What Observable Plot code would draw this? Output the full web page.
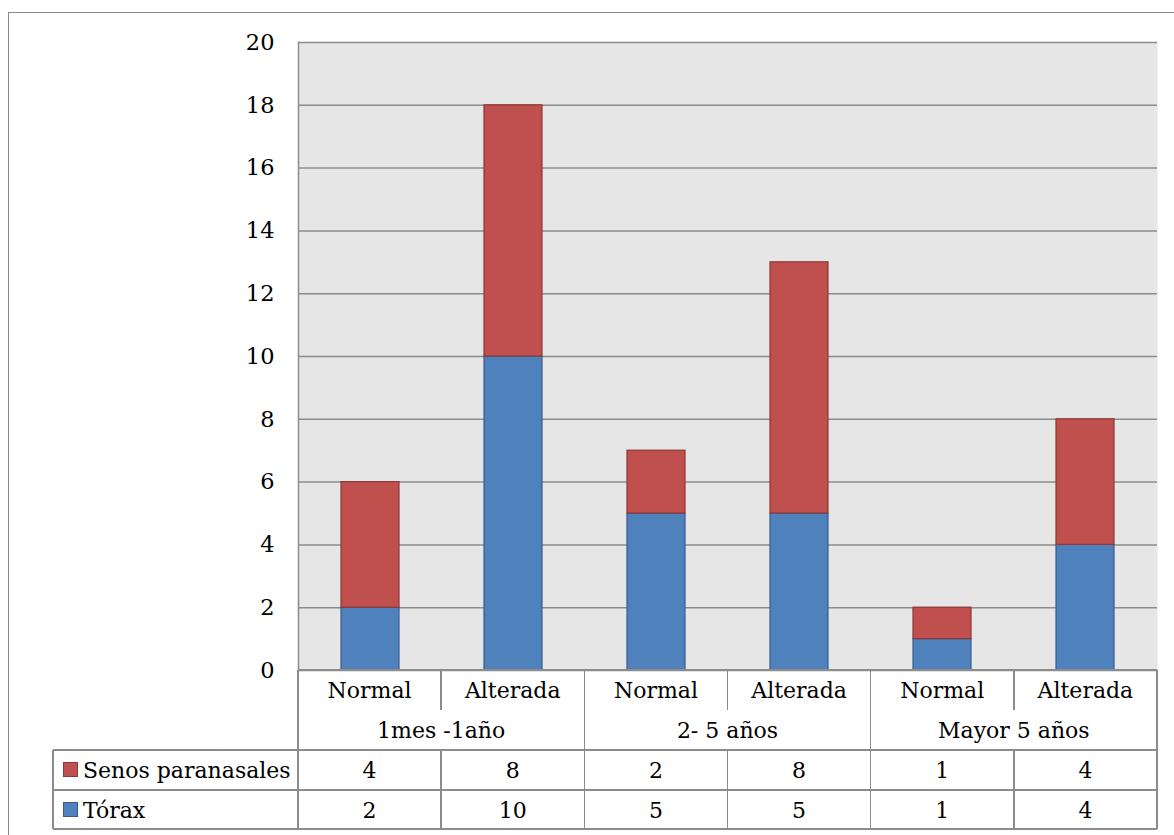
<!DOCTYPE html>
<html>
<head>
<meta charset="utf-8">
<script src="https://cdn.jsdelivr.net/npm/d3@7"></script>
<script src="https://cdn.jsdelivr.net/npm/@observablehq/plot@0.6"></script>
<style>
  html, body { margin: 0; padding: 0; background: #fff; }
  #wrap { position: relative; width: 1174px; height: 835px; overflow: hidden; font-family: "DejaVu Serif", serif; color: #000; }
  #outer { position: absolute; left: 8px; top: 12px; width: 1300px; height: 1000px; border: 1.5px solid #8c8c8c; box-sizing: border-box; }
  #chart { position: absolute; left: 0; top: 0; }
  .ln { position: absolute; background: #8c8c8c; }
  .tx { position: absolute; font-size: 22px; line-height: 40px; height: 40px; text-align: center; white-space: nowrap; }
  .sw { position: absolute; width: 13px; height: 13px; border: 1px solid; }
</style>
</head>
<body>
<div id="wrap">
  <div id="outer"></div>
  <div id="chart"></div>
</div>
<script>
// ---- data ----
const groups = ["1mes -1año", "2- 5 años", "Mayor 5 años"];
const subcats = ["Normal", "Alterada"];
const seriesNames = ["Senos paranasales", "Tórax"];
const senos = [4, 8, 2, 8, 1, 4];
const torax = [2, 10, 5, 5, 1, 4];
const yTicks = [0, 2, 4, 6, 8, 10, 12, 14, 16, 18, 20];
const colors = {"Senos paranasales": "#C0504D", "Tórax": "#4F81BD"};
const strokes = {"Senos paranasales": "#8C3836", "Tórax": "#385D8A"};

// keys for the 6 columns
const keys = [];
groups.forEach((g, gi) => subcats.forEach((s, si) => keys.push({key: gi + "|" + s, group: g, sub: s})));

const rows = [];
keys.forEach((k, i) => rows.push({key: k.key, series: "Tórax", value: torax[i]}));
keys.forEach((k, i) => rows.push({key: k.key, series: "Senos paranasales", value: senos[i]}));

// ---- layout ----
const W = 1174, mL = 298, mR = 17, mT = 42, plotBottom = 670, H = 700;
const plotW = W - mL - mR;
const step = plotW / keys.length;

const chart = Plot.plot({
  width: W,
  height: H,
  marginLeft: mL,
  marginRight: mR,
  marginTop: mT,
  marginBottom: H - plotBottom,
  style: {fontFamily: "DejaVu Serif", fontSize: "22.5px", color: "#000", background: "transparent"},
  x: {domain: keys.map(d => d.key), paddingInner: 0.595, paddingOuter: 0.2975, axis: null},
  y: {domain: [0, 20], ticks: yTicks, label: null},
  marks: [
    Plot.frame({fill: "#e6e6e6", stroke: null}),
    Plot.ruleY(yTicks, {stroke: "#8c8c8c", strokeWidth: 1.5}),
    Plot.frame({anchor: "left", stroke: "#8c8c8c", strokeWidth: 1.5}),
    Plot.barY(rows, {x: "key", y: "value", fill: d => colors[d.series], stroke: d => strokes[d.series], strokeWidth: 1.2}),
    Plot.axisY(yTicks, {tickSize: 0, tickPadding: 24, fontSize: 22.5, label: null, fill: "#000"})
  ]
});
document.getElementById("chart").appendChild(chart);

// ---- data table below the chart ----
const wrap = document.getElementById("wrap");
const legendLeft = 53;
const rowTop = [plotBottom, plotBottom + 40, plotBottom + 80, plotBottom + 120];
const tableBottom = plotBottom + 159;
const lw = 1.5;
function line(x, y, w, h) {
  const d = document.createElement("div");
  d.className = "ln";
  d.style.left = (x - (w === lw ? lw / 2 : 0)) + "px";
  d.style.top = (y - (h === lw ? lw / 2 : 0)) + "px";
  d.style.width = w + "px";
  d.style.height = h + "px";
  wrap.appendChild(d);
}
function text(str, x, y, w, align) {
  const d = document.createElement("div");
  d.className = "tx";
  d.textContent = str;
  d.style.left = x + "px";
  d.style.top = y + "px";
  d.style.width = w + "px";
  if (align) d.style.textAlign = align;
  wrap.appendChild(d);
}
const colX = i => mL + step * i;
const right = colX(keys.length);
// horizontal lines
line(mL, rowTop[0], right - mL, lw);
line(legendLeft, rowTop[2], right - legendLeft, lw);
line(legendLeft, rowTop[3], right - legendLeft, lw);
line(legendLeft, tableBottom, right - legendLeft, lw);
// vertical lines
line(legendLeft, rowTop[2], lw, tableBottom - rowTop[2]);
for (let i = 0; i <= keys.length; i++) {
  if (i % 2 === 0) line(colX(i), rowTop[0], lw, tableBottom - rowTop[0]);
  else {
    line(colX(i), rowTop[0], lw, 40);
    line(colX(i), rowTop[2], lw, tableBottom - rowTop[2]);
  }
}
// header texts
keys.forEach((k, i) => text(k.sub, colX(i), rowTop[0] + 1, step));
groups.forEach((g, gi) => text(g, colX(gi * 2), rowTop[1] + 1, step * 2));
// data rows
const seriesVals = {"Senos paranasales": senos, "Tórax": torax};
seriesNames.forEach((s, si) => {
  const top = rowTop[2 + si];
  const sw = document.createElement("div");
  sw.className = "sw";
  sw.style.left = "63px";
  sw.style.top = (top + 12) + "px";
  sw.style.background = colors[s];
  sw.style.borderColor = strokes[s];
  wrap.appendChild(sw);
  text(s, 83, top + 1, 213, "left");
  seriesVals[s].forEach((v, i) => text(String(v), colX(i), top + 1, step));
});
</script>
</body>
</html>
